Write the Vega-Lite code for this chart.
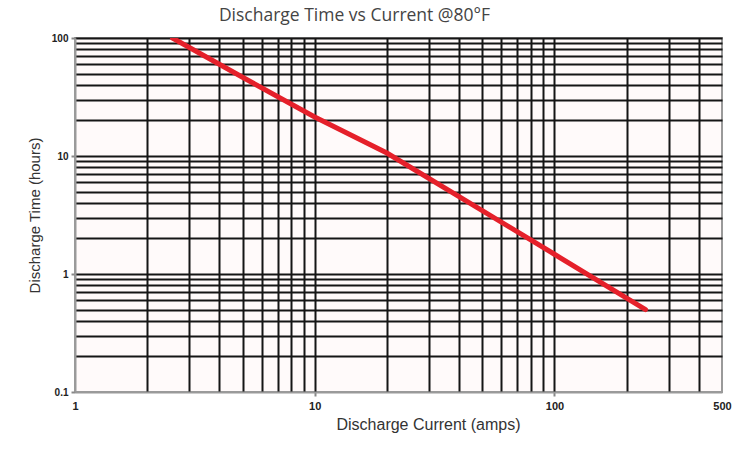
{
  "$schema": "https://vega.github.io/schema/vega-lite/v6.json",
  "width": 647,
  "height": 354,
  "autosize": {"type": "none"},
  "padding": {"left": 75, "top": 38, "right": 18, "bottom": 63},
  "background": "white",
  "title": {"text": "Discharge Time vs Current @80°F", "font": "Open Sans", "fontSize": 17.5, "fontWeight": "normal", "color": "#444444", "dx": -44, "offset": 9, "anchor": "middle"},
  "config": {"view": {"stroke": "#9a9a9a", "strokeWidth": 2, "fill": "#fffafa"}},
  "data": {"values": [
    {"current": 2.55, "hours": 100},
    {"current": 5, "hours": 46.5},
    {"current": 10, "hours": 21.4},
    {"current": 20, "hours": 10.6},
    {"current": 50, "hours": 3.45},
    {"current": 100, "hours": 1.47},
    {"current": 240, "hours": 0.5}
  ]},
  "mark": {"type": "line", "color": "#e5202a", "strokeWidth": 5, "strokeCap": "round", "clip": true},
  "encoding": {
    "x": {
      "field": "current", "type": "quantitative",
      "scale": {"type": "log", "domain": [1, 500], "nice": false},
      "axis": {
        "values": [1,2,3,4,5,6,7,8,9,10,20,30,40,50,60,70,80,90,100,200,300,400,500],
        "grid": true, "gridColor": "#151515", "gridWidth": 2,
        "gridOpacity": {"condition": {"test": "datum.value == 1 || datum.value == 500", "value": 0}, "value": 1},
        "labelExpr": "datum.value == 1 || datum.value == 10 || datum.value == 100 || datum.value == 500 ? '' + datum.value : ''",
        "labelOverlap": false, "labelBound": false, "labelFlush": false,
        "labelFont": "Liberation Sans", "labelFontSize": 11, "labelFontWeight": "bold", "labelColor": "#222222",
        "labelPadding": 4,
        "ticks": true, "tickSize": 4, "tickColor": "#888888", "tickWidth": 2,
        "tickOpacity": {"condition": {"test": "datum.value == 10 || datum.value == 100", "value": 1}, "value": 0},
        "domainColor": "#9a9a9a", "domainWidth": 2,
        "title": "Discharge Current (amps)", "titleFont": "Liberation Sans", "titleFontSize": 16, "titleFontWeight": "normal", "titleColor": "#333333",
        "titlePadding": 5, "titleX": 353
      }
    },
    "y": {
      "field": "hours", "type": "quantitative",
      "scale": {"type": "log", "domain": [0.1, 100], "nice": false},
      "axis": {
        "values": [0.1,0.2,0.3,0.4,0.5,0.6,0.7,0.8,0.9,1,2,3,4,5,6,7,8,9,10,20,30,40,50,60,70,80,90,100],
        "grid": true, "gridColor": "#151515", "gridWidth": 2,
        "gridOpacity": {"condition": {"test": "datum.value == 0.1", "value": 0}, "value": 1},
        "labelExpr": "datum.value == 0.1 || datum.value == 1 || datum.value == 10 || datum.value == 100 ? '' + datum.value : ''",
        "labelOverlap": false, "labelBound": false, "labelFlush": false,
        "labelFont": "Liberation Sans", "labelFontSize": 10, "labelFontWeight": "bold", "labelColor": "#222222",
        "labelPadding": 3,
        "ticks": true, "tickSize": 4, "tickColor": "#888888", "tickWidth": 2,
        "tickOpacity": {"condition": {"test": "datum.value == 0.1 || datum.value == 1 || datum.value == 10 || datum.value == 100", "value": 1}, "value": 0},
        "domainColor": "#9a9a9a", "domainWidth": 2,
        "title": "Discharge Time (hours)", "titleFont": "Liberation Sans", "titleFontSize": 15, "titleFontWeight": "normal", "titleColor": "#333333",
        "titlePadding": 9
      }
    }
  }
}
